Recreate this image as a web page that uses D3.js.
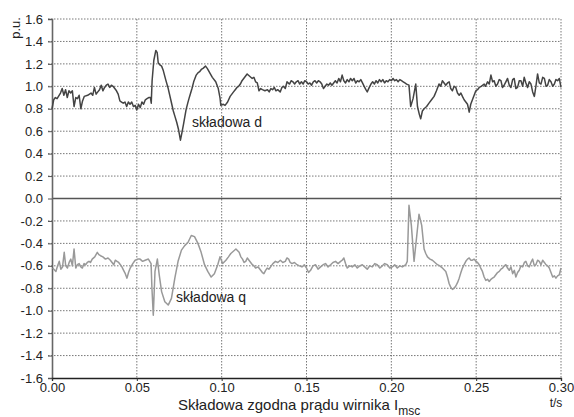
<!DOCTYPE html>
<html>
<head>
<meta charset="utf-8">
<script src="https://cdn.jsdelivr.net/npm/d3@7"></script>
<style>
  body { margin: 0; background: #fff; }
  text { font-family: "Liberation Sans", Arial, sans-serif; fill: #222; }
</style>
</head>
<body>
<script>
// time axis ticks and value axis ticks
const xTicks = [0.00, 0.05, 0.10, 0.15, 0.20, 0.25, 0.30];
const yTicks = [-1.6, -1.4, -1.2, -1.0, -0.8, -0.6, -0.4, -0.2, 0.0, 0.2, 0.4, 0.6, 0.8, 1.0, 1.2, 1.4, 1.6];

// składowa d : [t, value]
const dSeries = [
  [0.000,0.80],[0.001,0.88],[0.002,0.90],[0.003,0.89],[0.005,0.94],[0.006,0.98],[0.007,0.92],[0.008,0.97],
  [0.009,0.90],[0.010,0.96],[0.011,0.94],[0.012,0.96],[0.013,0.82],[0.014,0.90],[0.015,0.89],[0.016,0.92],
  [0.017,0.80],[0.018,0.87],[0.019,0.91],[0.021,0.92],[0.023,0.94],[0.024,0.92],[0.025,0.99],[0.026,0.93],
  [0.027,0.95],[0.028,0.97],[0.029,1.01],[0.030,0.96],[0.031,0.99],[0.032,1.01],[0.033,1.02],[0.034,0.99],
  [0.035,1.01],[0.036,1.00],[0.037,0.98],[0.038,0.96],[0.039,0.93],[0.040,0.87],[0.041,0.86],[0.042,0.85],
  [0.043,0.86],[0.044,0.82],[0.045,0.86],[0.046,0.84],[0.047,0.86],[0.048,0.82],[0.049,0.83],[0.050,0.79],
  [0.051,0.84],[0.052,0.81],[0.053,0.86],[0.054,0.84],[0.055,0.88],[0.056,0.89],[0.057,0.90],[0.058,0.90],
  [0.0585,0.85],[0.059,1.05],[0.0600,1.23],[0.0612,1.32],[0.0620,1.30],[0.0626,1.21],[0.0636,1.19],[0.0646,1.18],
  [0.0656,1.14],[0.0670,1.06],[0.0685,0.98],[0.0700,0.88],[0.0715,0.78],[0.0725,0.73],[0.0735,0.68],[0.0745,0.62],
  [0.0757,0.52],[0.0765,0.58],[0.0775,0.66],[0.0790,0.79],[0.0800,0.85],[0.0811,0.91],[0.0825,0.98],[0.0835,1.04],
  [0.0850,1.10],[0.0860,1.12],[0.0870,1.13],[0.0880,1.15],[0.0890,1.16],[0.0905,1.18],[0.0915,1.16],[0.0930,1.12],
  [0.0945,1.08],[0.0965,1.04],[0.0980,0.98],[0.0990,0.90],[0.0995,0.83],[0.1010,0.84],[0.1020,0.83],[0.1035,0.86],
  [0.1050,0.91],[0.1060,0.93],[0.1070,0.95],[0.1080,0.97],[0.1090,0.99],[0.1100,1.00],[0.1110,1.02],[0.1120,1.05],
  [0.1130,1.07],[0.1140,1.09],[0.1150,1.11],[0.1165,1.09],[0.1180,1.07],[0.1190,1.08],[0.1200,1.04],[0.1210,1.03],
  [0.1220,0.96],[0.1230,0.98],[0.1240,0.97],[0.1255,0.96],[0.1270,0.97],[0.1280,0.95],[0.1290,0.98],[0.1300,0.97],
  [0.1310,0.99],[0.1320,0.96],[0.1330,0.97],[0.1345,0.95],[0.1355,0.99],[0.1365,1.00],[0.1375,0.98],[0.1385,1.04],
  [0.1400,1.02],[0.1410,1.05],[0.1420,1.04],[0.1430,1.02],[0.1440,1.04],[0.1450,1.05],[0.1460,1.02],[0.1470,1.04],
  [0.1480,1.02],[0.1490,1.05],[0.1500,1.04],[0.1510,1.02],[0.1520,1.03],[0.1530,1.01],[0.1540,1.04],[0.1550,1.05],
  [0.1560,1.03],[0.1570,1.05],[0.1580,1.04],[0.1590,1.02],[0.1600,0.98],[0.1610,1.00],[0.1620,1.02],[0.1630,1.01],
  [0.1640,1.03],[0.1650,1.01],[0.1660,1.03],[0.1670,1.05],[0.1680,1.03],[0.1690,1.07],[0.1700,1.04],[0.1710,1.10],
  [0.1720,1.05],[0.1730,1.03],[0.1740,1.06],[0.1750,1.04],[0.1760,1.07],[0.1770,1.05],[0.1780,1.07],[0.1790,1.03],
  [0.1800,1.05],[0.1810,1.04],[0.1820,1.06],[0.1830,1.03],[0.1840,1.00],[0.1850,0.97],[0.1858,0.95],[0.1870,0.99],
  [0.1880,1.02],[0.1890,1.04],[0.1900,1.02],[0.1910,1.05],[0.1920,1.03],[0.1930,1.06],[0.1940,1.04],[0.1950,1.06],
  [0.1960,1.03],[0.1970,1.05],[0.1980,1.04],[0.1990,1.06],[0.2000,1.05],[0.2010,1.07],[0.2020,1.05],[0.2030,1.06],
  [0.2040,1.04],[0.2050,1.06],[0.2060,1.05],[0.2070,1.04],[0.2080,1.03],[0.2090,1.02],[0.2104,1.01],[0.2114,0.82],
  [0.2128,0.89],[0.2144,1.02],[0.2154,0.82],[0.2165,0.75],[0.2173,0.71],[0.2183,0.78],[0.2193,0.80],[0.2208,0.82],
  [0.2222,0.85],[0.2237,0.88],[0.2252,0.91],[0.2266,0.96],[0.2281,1.02],[0.2291,1.00],[0.2301,1.05],[0.2311,1.03],
  [0.2321,1.01],[0.2331,1.03],[0.2341,1.04],[0.2350,0.98],[0.2360,0.96],[0.2370,1.00],[0.2380,0.99],[0.2390,0.94],
  [0.2400,0.92],[0.2410,0.94],[0.2419,0.91],[0.2429,0.88],[0.2439,0.86],[0.2449,0.84],[0.2459,0.77],[0.2468,0.84],
  [0.2478,0.88],[0.2488,0.92],[0.2498,0.96],[0.2508,0.97],[0.2518,0.99],[0.2530,1.00],[0.2547,1.02],[0.2555,1.00],
  [0.2567,1.04],[0.2577,1.02],[0.2587,1.10],[0.2597,1.04],[0.2606,1.05],[0.2616,1.00],[0.2626,1.02],[0.2636,1.06],
  [0.2646,1.05],[0.2655,0.99],[0.2665,1.01],[0.2675,1.04],[0.2685,1.07],[0.2695,1.01],[0.2705,0.99],[0.2715,1.06],
  [0.2724,1.07],[0.2734,0.98],[0.2744,0.99],[0.2754,1.05],[0.2764,1.05],[0.2774,1.00],[0.2783,1.08],[0.2793,1.03],
  [0.2803,0.99],[0.2813,1.04],[0.2823,1.02],[0.2833,0.95],[0.2843,0.91],[0.2852,1.00],[0.2862,1.11],[0.2872,1.03],
  [0.2882,1.02],[0.2892,1.08],[0.2902,1.07],[0.2912,1.00],[0.2921,1.01],[0.2931,1.06],[0.2941,1.04],[0.2951,1.00],
  [0.2961,1.02],[0.2970,1.06],[0.2980,1.05],[0.2990,1.07],[0.3000,0.99]
];

// składowa q : [t, value]
const qSeries = [
  [0.0004,-0.62],[0.0023,-0.65],[0.0033,-0.60],[0.0043,-0.56],[0.0052,-0.63],[0.0062,-0.61],[0.0072,-0.48],[0.0081,-0.60],
  [0.0091,-0.62],[0.0101,-0.57],[0.0111,-0.54],[0.0120,-0.60],[0.0130,-0.45],[0.0140,-0.62],[0.0150,-0.59],[0.0160,-0.58],
  [0.0170,-0.61],[0.0179,-0.62],[0.0189,-0.58],[0.0198,-0.59],[0.0208,-0.57],[0.0218,-0.56],[0.0227,-0.57],[0.0237,-0.54],
  [0.0252,-0.52],[0.0267,-0.48],[0.0276,-0.50],[0.0286,-0.51],[0.0300,-0.52],[0.0315,-0.54],[0.0330,-0.53],[0.0344,-0.55],
  [0.0354,-0.57],[0.0364,-0.59],[0.0373,-0.55],[0.0383,-0.56],[0.0393,-0.57],[0.0403,-0.59],[0.0412,-0.61],[0.0422,-0.64],
  [0.0432,-0.67],[0.0442,-0.71],[0.0451,-0.66],[0.0461,-0.62],[0.0476,-0.58],[0.0490,-0.55],[0.0505,-0.54],[0.0519,-0.54],
  [0.0534,-0.56],[0.0549,-0.55],[0.0568,-0.54],[0.0584,-0.58],[0.0589,-0.80],[0.0597,-1.04],[0.0607,-0.65],[0.0621,-0.54],
  [0.0632,-0.68],[0.0646,-0.83],[0.0665,-0.92],[0.0685,-0.95],[0.0704,-0.89],[0.0724,-0.71],[0.0743,-0.56],[0.0763,-0.46],
  [0.0782,-0.42],[0.0802,-0.39],[0.0821,-0.33],[0.0840,-0.34],[0.0860,-0.40],[0.0879,-0.48],[0.0899,-0.59],[0.0918,-0.65],
  [0.0938,-0.70],[0.0957,-0.67],[0.0977,-0.59],[0.0990,-0.52],[0.1006,-0.58],[0.1025,-0.55],[0.1040,-0.52],[0.1054,-0.49],
  [0.1069,-0.47],[0.1084,-0.45],[0.1103,-0.48],[0.1113,-0.52],[0.1123,-0.54],[0.1132,-0.57],[0.1142,-0.56],[0.1151,-0.53],
  [0.1161,-0.55],[0.1171,-0.57],[0.1181,-0.59],[0.1190,-0.60],[0.1200,-0.62],[0.1215,-0.61],[0.1230,-0.64],[0.1240,-0.66],
  [0.1249,-0.67],[0.1259,-0.64],[0.1268,-0.62],[0.1278,-0.63],[0.1288,-0.61],[0.1302,-0.58],[0.1317,-0.56],[0.1331,-0.57],
  [0.1346,-0.55],[0.1360,-0.57],[0.1375,-0.56],[0.1385,-0.53],[0.1395,-0.54],[0.1404,-0.57],[0.1414,-0.58],[0.1429,-0.57],
  [0.1444,-0.59],[0.1458,-0.60],[0.1473,-0.61],[0.1487,-0.59],[0.1500,-0.62],[0.1512,-0.66],[0.1524,-0.64],[0.1538,-0.60],
  [0.1553,-0.59],[0.1568,-0.63],[0.1583,-0.61],[0.1598,-0.59],[0.1612,-0.58],[0.1627,-0.61],[0.1642,-0.59],[0.1656,-0.57],
  [0.1671,-0.56],[0.1686,-0.58],[0.1701,-0.56],[0.1711,-0.55],[0.1720,-0.53],[0.1730,-0.58],[0.1740,-0.62],[0.1755,-0.60],
  [0.1770,-0.61],[0.1785,-0.59],[0.1799,-0.62],[0.1814,-0.60],[0.1829,-0.59],[0.1843,-0.61],[0.1858,-0.63],[0.1873,-0.60],
  [0.1888,-0.61],[0.1902,-0.58],[0.1917,-0.59],[0.1932,-0.62],[0.1947,-0.60],[0.1961,-0.58],[0.1976,-0.59],[0.1991,-0.62],
  [0.2006,-0.61],[0.2020,-0.59],[0.2035,-0.62],[0.2050,-0.60],[0.2065,-0.61],[0.2075,-0.60],[0.2085,-0.59],[0.2094,-0.56],
  [0.2104,-0.06],[0.2118,-0.24],[0.2134,-0.56],[0.2150,-0.33],[0.2163,-0.14],[0.2179,-0.24],[0.2193,-0.45],[0.2203,-0.49],
  [0.2213,-0.52],[0.2228,-0.54],[0.2242,-0.55],[0.2257,-0.57],[0.2272,-0.59],[0.2286,-0.60],[0.2301,-0.62],[0.2321,-0.65],
  [0.2331,-0.70],[0.2341,-0.76],[0.2350,-0.79],[0.2360,-0.81],[0.2370,-0.80],[0.2380,-0.78],[0.2390,-0.75],[0.2400,-0.71],
  [0.2410,-0.66],[0.2419,-0.62],[0.2429,-0.59],[0.2439,-0.56],[0.2449,-0.54],[0.2459,-0.53],[0.2468,-0.55],[0.2478,-0.55],
  [0.2488,-0.54],[0.2498,-0.56],[0.2508,-0.57],[0.2518,-0.59],[0.2527,-0.62],[0.2537,-0.65],[0.2547,-0.70],[0.2557,-0.73],
  [0.2567,-0.72],[0.2577,-0.74],[0.2587,-0.72],[0.2596,-0.71],[0.2606,-0.70],[0.2616,-0.68],[0.2626,-0.66],[0.2636,-0.65],
  [0.2646,-0.63],[0.2656,-0.62],[0.2666,-0.60],[0.2675,-0.59],[0.2685,-0.62],[0.2695,-0.64],[0.2705,-0.61],[0.2715,-0.67],
  [0.2725,-0.64],[0.2734,-0.70],[0.2744,-0.66],[0.2754,-0.64],[0.2764,-0.60],[0.2774,-0.61],[0.2784,-0.57],[0.2793,-0.56],
  [0.2803,-0.60],[0.2813,-0.61],[0.2823,-0.57],[0.2833,-0.54],[0.2843,-0.60],[0.2852,-0.59],[0.2862,-0.55],[0.2872,-0.56],
  [0.2882,-0.59],[0.2892,-0.55],[0.2902,-0.57],[0.2911,-0.59],[0.2921,-0.60],[0.2931,-0.62],[0.2941,-0.66],[0.2951,-0.70],
  [0.2961,-0.69],[0.2970,-0.71],[0.2980,-0.69],[0.2990,-0.68],[0.3000,-0.62]
];

const W = 574, H = 417;
const svg = d3.select('body').append('svg').attr('width', W).attr('height', H);

const x = d3.scaleLinear().domain([0, 0.3]).range([52, 561]);
const y = d3.scaleLinear().domain([-1.6, 1.6]).range([378, 19]);

// grid
const grid = svg.append('g');
grid.selectAll('.hg').data(yTicks.filter(v => v !== 0 && v !== -1.6)).join('line')
  .attr('x1', x(0) - 4).attr('x2', x(0.3))
  .attr('y1', d => y(d)).attr('y2', d => y(d))
  .attr('stroke', '#555').attr('stroke-width', 0.8).attr('stroke-dasharray', '1.5,1.5');
grid.selectAll('.vg').data(xTicks.slice(1)).join('line')
  .attr('x1', d => x(d)).attr('x2', d => x(d))
  .attr('y1', y(1.6)).attr('y2', y(-1.6))
  .attr('stroke', '#555').attr('stroke-width', 0.8).attr('stroke-dasharray', '1.5,1.5');

// zero line
svg.append('line').attr('x1', x(0)).attr('x2', x(0.3)).attr('y1', y(0)).attr('y2', y(0))
  .attr('stroke', '#555').attr('stroke-width', 1.3);

// axes
const yAxis = svg.append('g').attr('transform', `translate(${x(0)},0)`)
  .call(d3.axisLeft(y).tickValues(yTicks).tickSize(4).tickFormat(d => d.toFixed(1)));
yAxis.select('.domain').attr('stroke', '#666').attr('stroke-width', 1.6);
yAxis.selectAll('.tick line').attr('stroke', '#555');
yAxis.selectAll('.tick text').attr('x', -9).style('font-size', '13px').style('font-family', '"Liberation Sans", Arial, sans-serif').attr('fill', '#222');

const xAxis = svg.append('g').attr('transform', `translate(0,${y(-1.6)})`)
  .call(d3.axisBottom(x).tickValues(xTicks).tickSize(3).tickFormat(d => d.toFixed(2)));
xAxis.select('.domain').attr('stroke', '#222').attr('stroke-width', 1.3);
xAxis.selectAll('.tick line').attr('stroke', '#333');
xAxis.selectAll('.tick text').attr('y', 5).style('font-size', '13px').style('font-family', '"Liberation Sans", Arial, sans-serif').attr('fill', '#222');

// series
const line = d3.line().x(d => x(d[0])).y(d => y(d[1]));
svg.append('path').datum(qSeries)
  .attr('d', line).attr('fill', 'none').attr('stroke', '#999').attr('stroke-width', 1.5).attr('stroke-linejoin', 'round');
svg.append('path').datum(dSeries)
  .attr('d', line).attr('fill', 'none').attr('stroke', '#444').attr('stroke-width', 1.5).attr('stroke-linejoin', 'round');

// labels
svg.append('text').attr('x', 192).attr('y', 127).style('font-size', '14px').text('składowa d');
svg.append('text').attr('x', 176).attr('y', 302).style('font-size', '14px').text('składowa q');

svg.append('text').attr('transform', 'translate(20,28) rotate(-90)').attr('text-anchor', 'middle')
  .style('font-size', '13px').text('p.u.');
svg.append('text').attr('x', 556).attr('y', 407).attr('text-anchor', 'middle')
  .style('font-size', '12px').text('t/s');

const title = svg.append('text').attr('x', 178).attr('y', 410).style('font-size', '15px');
title.append('tspan').text('Składowa zgodna prądu wirnika I');
title.append('tspan').attr('dy', 5).style('font-size', '12px').text('msc');
</script>
</body>
</html>
